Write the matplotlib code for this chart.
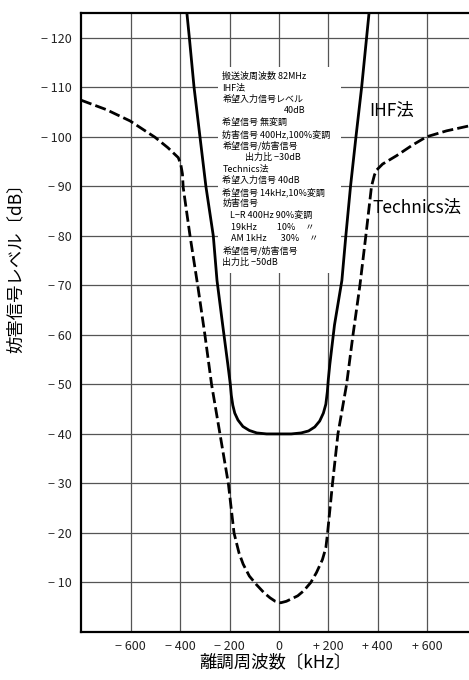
import matplotlib
matplotlib.use("Agg")
import matplotlib.pyplot as plt
from matplotlib.patches import Rectangle

plt.rcParams['font.family'] = ['Noto Sans CJK JP', 'DejaVu Sans']

# detuning frequency (kHz) vs interference level (dB)
ihf_x = [-373, -363, -344, -320, -296, -266, -251, -228, -207, -197, -193, -187, -179, -166, -146,
         -120, -90, -50, 0, 50, 90, 120, 145, 165, 180, 190, 196, 200, 206, 225, 255, 271, 290,
         312, 335, 355, 365]
ihf_y = [125, 120, 110, 100, 90, 80, 71, 62, 54, 50, 47.8, 45.8, 44.2, 42.8, 41.5,
         40.7, 40.2, 40, 40, 40, 40.2, 40.6, 41.4, 42.6, 44.2, 46, 48.5, 51, 54, 62, 71, 80, 90,
         100, 110, 120, 125]

tech_x = [-802, -700, -603, -502, -450, -408, -398, -391, -388, -360, -328, -300, -273, -239, -205,
          -182, -162, -145, -120, -90, -60, -36, -15, 7, 30, 76, 100, 129, 152, 176, 190, 197, 217,
          239, 274, 300, 328, 352, 375, 387, 396, 420, 477, 540, 598, 679, 770]
tech_y = [107.4, 105.5, 103.2, 99.9, 97.8, 95.8, 94.5, 92.5, 89.8, 79.9, 69.6, 60, 50, 40, 30,
          20, 16, 13.7, 11.3, 9.5, 7.9, 6.9, 6.2, 5.9, 6.2, 7.3, 8.3, 10, 12, 14.6, 17, 20, 30,
          40, 50, 60, 70, 80, 90, 92.3, 93.3, 94.5, 96.2, 98.3, 100, 101.2, 102.2]

x_ticks = [-600, -400, -200, 0, 200, 400, 600]
x_labels = ['− 600', '− 400', '− 200', '0', '+ 200', '+ 400', '+ 600']
y_ticks = list(range(10, 130, 10))
y_labels = ['− %d' % v for v in y_ticks]

notes = ['搬送波周波数 82MHz', 'IHF法', '希望入力信号レベル', '40dB',
         '希望信号 無変調', '妨害信号 400Hz,100%変調', '希望信号/妨害信号', '出力比 −30dB',
         'Technics法', '希望入力信号 40dB', '希望信号 14kHz,10%変調', '妨害信号',
         'L−R 400Hz 90%変調', '19kHz          10%     〃', 'AM 1kHz       30%     〃',
         '希望信号/妨害信号', '出力比 −50dB']
note_indent = [0, 0, 0, 250, 0, 0, 0, 90, 0, 0, 0, 0, 30, 35, 35, 0, 0]

fig = plt.figure(figsize=(4.69, 6.8), dpi=100)
ax = fig.add_axes([81 / 469, 48 / 680, 1 - 81 / 469, 619 / 680])

ax.plot(ihf_x, ihf_y, color='black', lw=2.0, zorder=3)
ax.plot(tech_x, tech_y, color='black', lw=2.0, linestyle=(0, (4, 1.5)), zorder=3)

ax.set_xlim(-802, 770)
ax.set_ylim(0, 125)
ax.set_xticks(x_ticks)
ax.set_xticklabels(x_labels)
ax.set_yticks(y_ticks)
ax.set_yticklabels(y_labels)
ax.tick_params(length=0, labelsize=9, colors='#222222')
ax.tick_params(axis='x', pad=6)
ax.tick_params(axis='y', pad=7)
ax.grid(True, color='#555555', lw=0.9)
ax.set_axisbelow(True)
for side in ['left', 'bottom', 'top']:
    ax.spines[side].set_linewidth(1.6)
ax.spines['right'].set_visible(False)

ax.set_xlabel('離調周波数〔kHz〕', fontsize=12.5, labelpad=0)
ax.set_ylabel('妨害信号レベル〔dB〕', fontsize=12.5)
ax.yaxis.set_label_coords(-0.145, 0.595)

# white panel behind the condition notes
ax.add_patch(Rectangle((-245, 72.5), 495, 41.5, facecolor='white', edgecolor='none', zorder=1.5))
for i, line in enumerate(notes):
    ax.text(-229 + note_indent[i], 112.3 - i * 2.35, line, fontsize=6.5, va='center', ha='left', zorder=4)

ax.text(366, 105.3, 'IHF法', fontsize=12.5, va='center')
ax.text(377, 85.7, 'Technics法', fontsize=12.5, va='center')

fig.savefig('out.png', dpi=100)
